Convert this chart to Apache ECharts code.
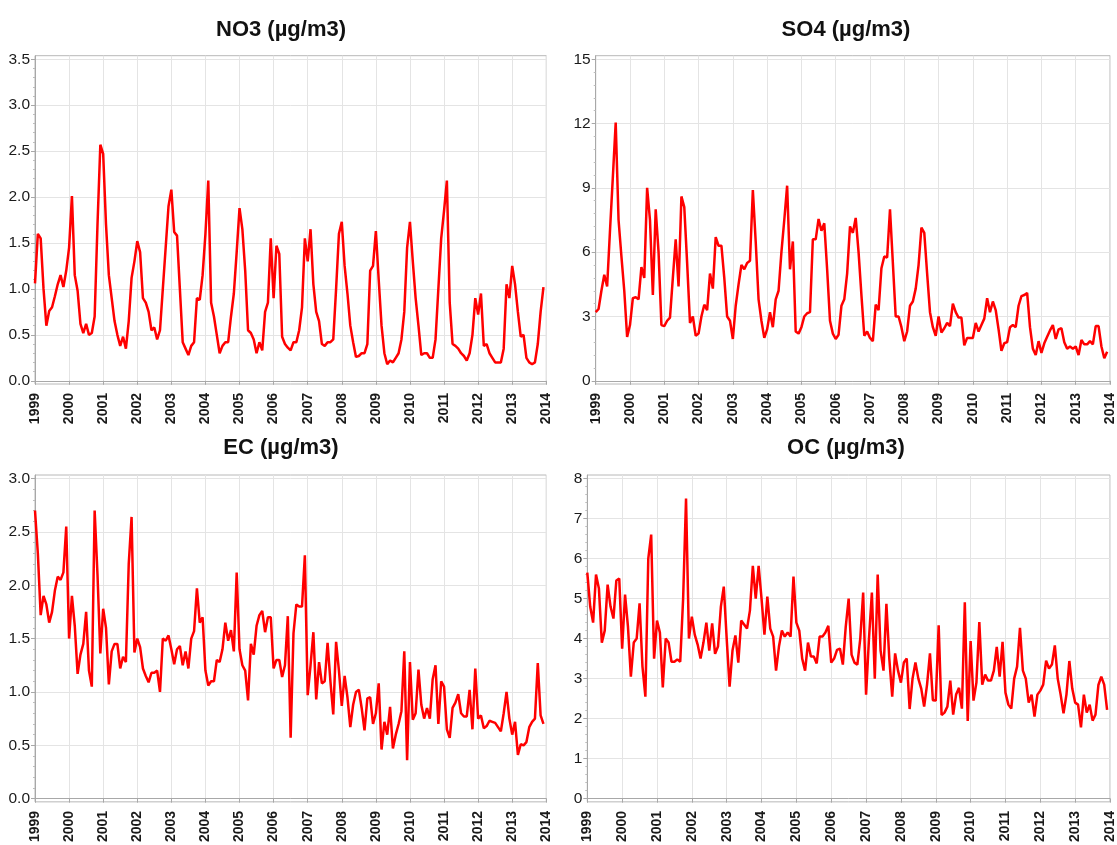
<!DOCTYPE html>
<html>
<head>
<meta charset="utf-8">
<script src="https://cdn.jsdelivr.net/npm/echarts@6/dist/echarts.min.js"></script>
<style>
html,body{margin:0;padding:0;background:#fff;}
#chart{width:1117px;height:845px;}
</style>
</head>
<body>
<div id="chart"></div>
<script>
// ---- data (monthly, Jan 1999 - Dec 2013) ----
const startYear = 1999;
const yearTicks = [1999,2000,2001,2002,2003,2004,2005,2006,2007,2008,2009,2010,2011,2012,2013,2014];
const titles = ['NO3 (µg/m3)', 'SO4 (µg/m3)', 'EC (µg/m3)', 'OC (µg/m3)'];

const no3 = [
  1.06,1.6,1.55,1.0,0.6,0.76,0.8,0.92,1.05,1.15,1.02,1.2,
  1.45,2.01,1.15,0.98,0.62,0.52,0.62,0.5,0.52,0.7,1.7,2.57,
  2.47,1.7,1.15,0.9,0.65,0.5,0.38,0.48,0.35,0.65,1.12,1.3,
  1.52,1.4,0.9,0.85,0.75,0.55,0.58,0.45,0.55,1.0,1.45,1.9,
  2.08,1.62,1.58,1.0,0.42,0.35,0.28,0.38,0.42,0.9,0.88,1.15,
  1.6,2.18,0.85,0.7,0.5,0.3,0.38,0.42,0.42,0.7,0.95,1.4,
  1.88,1.65,1.2,0.55,0.52,0.45,0.3,0.42,0.33,0.75,0.85,1.55,
  0.9,1.47,1.38,0.48,0.4,0.36,0.33,0.42,0.42,0.55,0.8,1.55,
  1.3,1.65,1.05,0.75,0.65,0.4,0.38,0.42,0.42,0.45,1.0,1.6,
  1.73,1.25,0.95,0.6,0.42,0.26,0.27,0.3,0.3,0.4,1.2,1.25,
  1.63,1.1,0.6,0.3,0.18,0.22,0.2,0.25,0.3,0.45,0.75,1.45,
  1.73,1.3,0.9,0.6,0.28,0.3,0.3,0.25,0.25,0.45,1.0,1.55,
  1.85,2.18,0.85,0.4,0.38,0.35,0.3,0.27,0.22,0.3,0.5,0.9,
  0.72,0.95,0.38,0.4,0.3,0.25,0.2,0.2,0.2,0.35,1.05,0.9,
  1.25,1.05,0.75,0.48,0.5,0.25,0.2,0.18,0.2,0.4,0.75,1.02
];
const so4 = [
  3.2,3.35,4.2,4.95,4.4,7.0,9.5,12.05,7.5,5.8,4.2,2.05,
  2.6,3.85,3.9,3.8,5.3,4.8,9.0,7.5,4.0,8.0,6.0,2.6,
  2.55,2.8,2.95,4.8,6.6,4.4,8.6,8.1,5.5,2.7,3.0,2.1,
  2.2,3.0,3.55,3.3,5.0,4.3,6.7,6.3,6.3,4.8,3.0,2.8,
  1.95,3.5,4.5,5.4,5.2,5.5,5.6,8.9,6.5,3.8,2.8,2.0,
  2.4,3.2,2.5,3.8,4.2,6.0,7.5,9.1,5.2,6.5,2.3,2.2,
  2.5,3.0,3.15,3.2,6.6,6.6,7.55,7.0,7.35,5.2,2.8,2.2,
  1.95,2.15,3.5,3.8,5.0,7.2,6.9,7.6,6.0,4.0,2.1,2.3,
  2.0,1.85,3.55,3.3,5.25,5.8,5.75,8.0,5.5,3.0,3.0,2.5,
  1.85,2.3,3.5,3.7,4.3,5.4,7.15,6.9,5.0,3.2,2.5,2.1,
  3.0,2.25,2.45,2.7,2.55,3.6,3.2,2.95,2.95,1.65,2.0,2.0,
  2.0,2.7,2.3,2.6,2.9,3.85,3.2,3.7,3.3,2.4,1.4,1.75,
  1.8,2.5,2.6,2.5,3.5,3.95,4.0,4.1,2.5,1.5,1.2,1.85,
  1.3,1.75,2.05,2.35,2.6,1.95,2.4,2.45,1.8,1.5,1.6,1.5,
  1.6,1.2,1.9,1.7,1.7,1.85,1.7,2.55,2.55,1.6,1.05,1.35
];
const ec = [
  2.7,2.3,1.72,1.9,1.82,1.65,1.75,1.95,2.08,2.05,2.12,2.55,
  1.5,1.9,1.62,1.17,1.35,1.45,1.75,1.2,1.05,2.7,2.1,1.36,
  1.78,1.6,1.07,1.38,1.45,1.45,1.22,1.33,1.28,2.2,2.64,1.37,
  1.5,1.42,1.22,1.15,1.09,1.18,1.18,1.2,1.0,1.5,1.48,1.53,
  1.4,1.26,1.4,1.43,1.25,1.38,1.22,1.5,1.57,1.97,1.65,1.7,
  1.2,1.06,1.1,1.1,1.3,1.28,1.4,1.65,1.48,1.58,1.38,2.12,
  1.4,1.25,1.2,0.92,1.45,1.35,1.62,1.72,1.76,1.56,1.7,1.7,
  1.22,1.3,1.3,1.14,1.25,1.71,0.57,1.55,1.82,1.8,1.8,2.28,
  0.97,1.25,1.56,0.93,1.28,1.08,1.1,1.46,1.1,0.79,1.47,1.2,
  0.87,1.15,0.95,0.67,0.88,1.0,1.02,0.85,0.64,0.94,0.95,0.7,
  0.8,1.08,0.46,0.72,0.6,0.86,0.47,0.6,0.7,0.82,1.38,0.36,
  1.28,0.74,0.8,1.21,0.88,0.75,0.85,0.75,1.12,1.25,0.7,1.1,
  1.05,0.65,0.57,0.85,0.9,0.98,0.8,0.77,0.77,1.02,0.65,1.22,
  0.75,0.78,0.66,0.68,0.73,0.72,0.71,0.67,0.63,0.8,1.0,0.75,
  0.6,0.72,0.41,0.51,0.5,0.53,0.67,0.72,0.75,1.27,0.78,0.7
];
const oc = [
  5.65,4.8,4.4,5.6,5.25,3.9,4.2,5.35,4.8,4.5,5.45,5.5,
  3.75,5.1,4.3,3.05,3.9,4.0,4.88,3.3,2.55,6.0,6.6,3.5,
  4.45,4.15,2.78,4.0,3.9,3.42,3.42,3.48,3.42,5.0,7.5,4.0,
  4.55,4.1,3.85,3.5,3.9,4.4,3.7,4.38,3.62,3.8,4.8,5.3,
  4.0,2.8,3.7,4.08,3.4,4.45,4.35,4.25,4.7,5.82,5.0,5.82,
  5.0,4.1,5.05,4.25,4.05,3.2,3.8,4.2,4.05,4.15,4.05,5.55,
  4.4,4.2,3.5,3.2,3.9,3.55,3.55,3.38,4.05,4.05,4.15,4.32,
  3.4,3.5,3.72,3.75,3.35,4.3,5.0,3.6,3.4,3.35,4.0,5.15,
  2.6,4.0,5.15,3.0,5.6,3.7,3.2,4.87,3.5,2.55,3.63,3.2,
  2.9,3.4,3.5,2.24,3.0,3.4,3.0,2.75,2.3,2.85,3.63,2.46,
  2.45,4.33,2.09,2.15,2.3,2.95,2.1,2.6,2.77,2.25,4.91,1.94,
  3.94,2.45,2.9,4.41,2.85,3.1,2.95,2.95,3.2,3.79,3.05,3.92,
  2.65,2.35,2.25,3.0,3.3,4.27,3.2,3.0,2.4,2.6,2.05,2.6,
  2.7,2.85,3.45,3.25,3.35,3.83,3.0,2.6,2.13,2.6,3.44,2.75,
  2.4,2.35,1.78,2.6,2.15,2.35,1.95,2.1,2.84,3.05,2.85,2.22
];

const no3Ticks = [0,0.5,1,1.5,2,2.5,3,3.5];
const so4Ticks = [0,3,6,9,12,15];
const ecTicks  = [0,0.5,1,1.5,2,2.5,3];
const ocTicks  = [0,1,2,3,4,5,6,7,8];

// ---- layout / style ----
const seriesList = [no3, so4, ec, oc];
const tickList = [no3Ticks, so4Ticks, ecTicks, ocTicks];
const decimals = [1, 0, 1, 0];
const splitNums = [7, 5, 6, 8];
const grids = [
  {left: 35,    top: 55.7, width: 511.3, height: 328.3},
  {left: 595.7, top: 55.7, width: 515,   height: 328.3},
  {left: 35,    top: 475,  width: 511.3, height: 329},
  {left: 587.3, top: 475,  width: 523.4, height: 329}
];
const titlePos = [[281, 18.5], [846, 18.5], [281, 437], [846, 437]];
const FONT = '"Liberation Sans", Arial, sans-serif';
const gridColor = '#e4e4e4';
const axisColor = '#a8a8a8';

function toXY(vals) {
  return vals.map((v, i) => [startYear + i / 12, v]);
}

const option = {
  backgroundColor: '#fff',
  animation: false,
  title: titles.map((t, i) => ({
    text: t,
    left: titlePos[i][0],
    top: titlePos[i][1],
    textAlign: 'center',
    padding: 0,
    textStyle: {fontFamily: FONT, fontSize: 22, fontWeight: 'bold', color: '#111'}
  })),
  grid: grids.map(g => Object.assign({show: true, borderColor: '#b8b8b8', borderWidth: 1, containLabel: false}, g)),
  xAxis: grids.map((g, i) => ({
    type: 'value',
    gridIndex: i,
    min: yearTicks[0],
    max: yearTicks[yearTicks.length - 1],
    interval: 1,
    axisLine: {show: true, lineStyle: {color: axisColor, width: 1}},
    axisTick: {show: true, length: 4, lineStyle: {color: axisColor}},
    splitLine: {show: true, lineStyle: {color: gridColor, width: 1}},
    axisLabel: {
      rotate: 90, margin: 9, fontFamily: FONT, fontSize: 14, fontWeight: 'bold', color: '#1a1a1a',
      hideOverlap: false, showMinLabel: true, showMaxLabel: true,
      formatter: v => String(Math.round(v))
    }
  })),
  yAxis: grids.map((g, i) => {
    const t = tickList[i];
    const top = t[t.length - 1];
    return {
      type: 'value',
      gridIndex: i,
      min: -top * 0.01,
      max: top * 1.011,
      splitNumber: splitNums[i],
      axisLine: {show: true, lineStyle: {color: axisColor, width: 1}},
      axisTick: {show: true, length: 4, customValues: t, lineStyle: {color: axisColor}},
      minorTick: {show: true, splitNumber: 5, length: 2, lineStyle: {color: '#bdbdbd'}},
      splitLine: {show: true, lineStyle: {color: gridColor, width: 1}},
      axisLabel: {
        customValues: t, margin: 5, fontFamily: FONT, fontSize: 15.5, color: '#1a1a1a',
        formatter: v => Number(v).toFixed(decimals[i])
      }
    };
  }),
  series: seriesList.map((vals, i) => ({
    type: 'line',
    xAxisIndex: i,
    yAxisIndex: i,
    data: toXY(vals),
    showSymbol: false,
    symbol: 'none',
    lineStyle: {color: '#ff0000', width: 2.5},
    z: 5
  }))
};

const chart = echarts.init(document.getElementById('chart'), null, {renderer: 'canvas'});
chart.setOption(option);
</script>
</body>
</html>
